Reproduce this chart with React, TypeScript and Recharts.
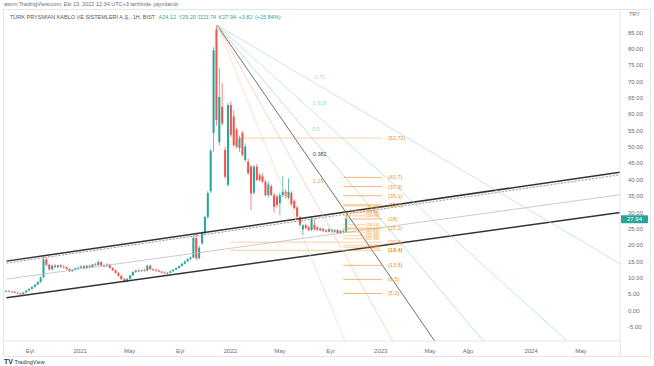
import React from "react";
import { Bar, ComposedChart, ReferenceDot, ReferenceLine, XAxis, YAxis } from "recharts";

const DAY = 86400000;
const d = (s: string) => Date.parse(s + "T00:00:00Z");

const GREEN = "#26a69a";
const RED = "#ef5350";
const ORANGE = "#f5a04a";
const TEXT = "#6a6d78";

// weekly candles [open, high, low, close], oldest first, last one is the week of 10 Oct 2022
const lastWeek = "2022-10-10";
const ohlc: [number, number, number, number][] = [
  [5.9, 6.3, 5.6, 6.0], [6.0, 6.2, 5.7, 5.8], [5.8, 6.0, 5.5, 5.7], [5.7, 5.9, 5.3, 5.4],
  [5.4, 5.6, 5.0, 5.2], [5.2, 5.4, 4.8, 5.0], [5.0, 5.6, 4.9, 5.5], [5.5, 6.2, 5.4, 6.1],
  [6.1, 6.8, 6.0, 6.6], [6.6, 7.4, 6.4, 7.2], [7.2, 8.1, 7.0, 7.9], [7.9, 9.0, 7.7, 8.7],
  [8.7, 10.4, 8.5, 10.1], [10.1, 16.9, 10.0, 15.6], [15.6, 16.2, 13.6, 14.0], [14.0, 14.4, 12.2, 12.6],
  [12.6, 14.0, 12.3, 13.7], [13.7, 14.2, 13.0, 13.3], [13.3, 14.0, 12.9, 13.8], [13.8, 14.2, 13.1, 13.4],
  [13.4, 13.9, 12.9, 13.2], [13.2, 13.5, 12.5, 12.7], [12.7, 13.0, 11.8, 12.0], [12.0, 12.6, 11.7, 12.4],
  [12.4, 13.1, 12.2, 12.9], [12.9, 13.4, 12.6, 13.1], [13.1, 13.8, 12.9, 13.5], [13.5, 13.9, 12.8, 13.0],
  [13.0, 13.9, 12.8, 13.7], [13.7, 14.0, 13.0, 13.2], [13.2, 14.3, 13.1, 14.1], [14.1, 14.6, 13.6, 13.9],
  [13.9, 15.3, 13.7, 14.8], [14.8, 15.0, 13.5, 13.7], [13.7, 14.2, 13.2, 13.6], [13.6, 14.5, 13.3, 14.0],
  [14.0, 14.2, 12.8, 13.0], [13.0, 13.3, 12.0, 12.3], [12.3, 12.6, 11.2, 11.5], [11.5, 11.8, 10.3, 10.6],
  [10.6, 10.9, 9.3, 9.6], [9.6, 9.9, 8.5, 8.8], [8.8, 9.9, 8.6, 9.7], [9.7, 10.9, 9.5, 10.7],
  [10.7, 12.0, 10.5, 11.8], [11.8, 12.5, 11.5, 12.2], [12.2, 12.6, 11.8, 12.1], [12.1, 12.5, 11.7, 12.3],
  [12.3, 12.8, 11.9, 12.2], [12.2, 14.0, 12.0, 13.7], [13.7, 14.0, 12.4, 12.6], [12.6, 12.9, 12.1, 12.4],
  [12.4, 12.8, 11.9, 12.2], [12.2, 12.5, 11.7, 11.9], [11.9, 12.1, 11.3, 11.6], [11.6, 11.9, 11.1, 11.4],
  [11.4, 11.8, 11.0, 11.5], [11.5, 12.2, 11.3, 12.0], [12.0, 12.7, 11.8, 12.5], [12.5, 13.2, 12.3, 13.0],
  [13.0, 13.8, 12.8, 13.6], [13.6, 14.5, 13.4, 14.3], [14.3, 15.3, 14.1, 15.0], [15.0, 16.0, 14.8, 15.7],
  [15.7, 16.5, 15.4, 16.2], [16.2, 23.0, 16.0, 22.2], [22.2, 23.8, 15.4, 16.0], [16.0, 19.8, 15.6, 19.2],
  [20.5, 24.2, 20.2, 23.7], [23.7, 29.0, 23.3, 28.6], [28.6, 36.5, 28.0, 35.9], [36.5, 49.5, 36.0, 48.8],
  [54.3, 80.5, 48.5, 79.6], [86.0, 87.3, 56.5, 58.3], [51.5, 74.2, 50.5, 65.3], [62.3, 69.5, 56.5, 57.2],
  [49.1, 50.0, 40.3, 40.9], [38.4, 63.5, 38.0, 62.8], [62.8, 64.0, 53.0, 53.7], [59.3, 61.3, 50.0, 50.6],
  [55.2, 56.0, 49.5, 50.1], [49.7, 53.5, 48.5, 52.8], [54.3, 55.0, 47.0, 47.6], [46.0, 51.0, 45.5, 50.1],
  [45.5, 46.5, 41.5, 42.0], [44.0, 44.5, 30.7, 35.8], [36.0, 44.5, 35.5, 44.0], [44.0, 44.8, 39.5, 39.9],
  [41.4, 42.0, 39.4, 39.9], [41.0, 42.0, 39.0, 39.4], [39.4, 40.0, 34.8, 35.3], [35.3, 39.5, 34.5, 38.5],
  [38.0, 38.6, 35.0, 35.3], [35.3, 36.0, 30.0, 31.7], [34.8, 35.5, 31.5, 32.3], [32.8, 36.0, 29.2, 35.3],
  [35.3, 41.0, 34.5, 36.3], [36.3, 37.0, 34.3, 35.0], [34.5, 40.4, 34.0, 36.3], [36.0, 36.5, 32.0, 32.5],
  [33.5, 34.0, 30.8, 31.3], [31.5, 32.0, 28.2, 28.7], [28.5, 29.0, 25.8, 26.2], [24.8, 26.4, 23.1, 26.0],
  [26.1, 26.6, 24.8, 25.2], [25.4, 25.9, 24.2, 24.6], [24.6, 28.7, 24.3, 28.0], [26.2, 28.0, 24.5, 24.8],
  [25.4, 25.8, 24.3, 24.7], [25.1, 25.4, 24.2, 24.6], [24.9, 25.2, 24.0, 24.4], [24.5, 24.9, 23.8, 24.1],
  [24.1, 25.2, 23.9, 24.8], [24.7, 25.0, 23.8, 24.1], [24.1, 24.9, 23.7, 24.6], [24.6, 24.9, 23.3, 23.7],
  [23.7, 24.6, 23.3, 24.3], [24.3, 24.8, 23.6, 24.12], [24.12, 29.2, 23.74, 27.94],
];

const timeDomain = ["2020-06-30", "2024-08-04"];
const priceDomain = [-9.33, 91.9];
const monthTicks = [
  "2020-09-01", "2021-01-01", "2021-05-01", "2021-09-01", "2022-01-01", "2022-05-01",
  "2022-09-01", "2023-01-01", "2023-05-01", "2023-08-01", "2024-01-01", "2024-05-01",
];
const monthLabels = ["Eyl", "2021", "May", "Eyl", "2022", "May", "Eyl", "2023", "May", "Ağu", "2024", "May"];
const priceTicks = [-5, 0, 5, 10, 15, 20, 25, 30, 35, 40, 45, 50, 55, 60, 65, 70, 75, 80, 85];

// rising channel, value at channel start and at the right edge
const channelSpan = ["2020-07-06", "2024-08-04"];
const upperLine = [15.1, 42.3];
const dashedLine = [14.5, 41.5];
const middleLine = [9.6, 35.4];
const lowerLine = [3.9, 30.0];

// fan from the Nov 2021 top
const fanOrigin = { date: "2021-11-29", value: 87.3 };
const fanLevels = ["0.75", "0.618", "0.5", "0.382", "0.25", "0"];
const fanEnds: [string, number][] = [
  ["2024-08-04", 14.3], ["2024-03-29", -9.33], ["2023-09-07", -9.33],
  ["2023-05-12", -9.33], ["2023-01-30", -9.33], ["2022-10-06", -9.33],
];
const fanLabelAt: [string, number][] = [
  ["2022-07-24", 71.3], ["2022-07-20", 63.3], ["2022-07-18", 55.4], ["2022-07-20", 47.7], ["2022-07-20", 39.4],
];
const fanColors = ["#b7d3ea", "#acdad3", "#a3d6b9", "#4a4a4a", "#f7c29a", "#fad7bb"];

// retracement levels with labels on the right
const fibRight = [52.72, 40.7, 37.9, 35.1, 32.3, 28, 25.2, 20.9, 18.4, 13.8, 9.5, 5.2];
const fibRightStart = [
  "2022-01-05", "2022-10-02", "2022-10-02", "2022-10-02", "2022-10-02", "2022-10-02",
  "2022-10-02", "2021-12-31", "2021-12-31", "2022-10-02", "2022-10-02", "2022-10-02",
];
const fibEnd = "2023-01-04";
const fibCluster = [31.92, 30.5, 29.88, 28.96, 26.24, 24.86, 23.96, 22.86, 21.96, 19.96, 19.36];
const fibClusterEnd = "2022-11-24";

const lastClose = 27.94;

const data = ohlc.map(([o, h, l, c], i) => ({
  t: d(lastWeek) - (ohlc.length - 1 - i) * 7 * DAY,
  o, h, l, c,
}));

function Candle(props: any) {
  const { x, y, width, height, payload } = props;
  const { o, h, l, c } = payload;
  const span = h - l || 1;
  const py = (v: number) => y + ((h - v) / span) * height;
  const color = c >= o ? GREEN : RED;
  const top = py(Math.max(o, c));
  const bot = py(Math.min(o, c));
  const cx = x + width / 2;
  return (
    <g>
      <line x1={cx} x2={cx} y1={y} y2={y + height} stroke={color} strokeWidth={0.7} />
      <rect x={x} y={top} width={width} height={Math.max(bot - top, 0.8)} fill={color} />
    </g>
  );
}

const seg = (x1: string, y1: number, x2: string, y2: number) => [
  { x: d(x1), y: y1 },
  { x: d(x2), y: y2 },
];

const small = { position: "absolute" as const, fontSize: 5.5, lineHeight: "7px", whiteSpace: "nowrap" as const, color: TEXT };

export default function App() {
  const tickLabel = (v: number) => monthLabels[monthTicks.findIndex((m) => d(m) === v)] ?? "";
  return (
    <div style={{ position: "absolute", left: 0, top: 0, width: 654, height: 366, background: "#fff", fontFamily: "'Liberation Sans', Arial, sans-serif" }}>
      <div style={{ position: "absolute", left: 3, top: 9, width: 648, height: 348, border: "1px solid #e3e5ea", boxSizing: "border-box" }} />
      <div style={{ position: "absolute", left: 620, top: 341, width: 1, height: 16, background: "#e3e5ea" }} />
      <ComposedChart width={654} height={366} data={data} margin={{ top: 10, right: 0, bottom: 0, left: 4 }}>
        <XAxis
          dataKey="t"
          type="number"
          domain={timeDomain.map(d)}
          allowDataOverflow
          ticks={monthTicks.map(d)}
          tickFormatter={tickLabel}
          height={25}
          tickLine={false}
          axisLine={{ stroke: "#e3e5ea" }}
          tick={{ fontSize: 6, fill: TEXT }}
        />
        <YAxis
          orientation="right"
          type="number"
          domain={priceDomain}
          allowDataOverflow
          ticks={priceTicks}
          tickFormatter={(v: number) => v.toFixed(2)}
          width={34}
          tickLine={false}
          axisLine={{ stroke: "#e3e5ea" }}
          tick={{ fontSize: 6, fill: TEXT, textAnchor: "start" }}
        />

        <ReferenceLine segment={seg(channelSpan[0], middleLine[0], channelSpan[1], middleLine[1])} stroke="#bdbdbd" strokeWidth={0.8} ifOverflow="visible" />
        <ReferenceLine segment={seg(channelSpan[0], dashedLine[0], channelSpan[1], dashedLine[1])} stroke="#8a8a8a" strokeWidth={0.9} strokeDasharray="2 1.5" ifOverflow="visible" />
        <ReferenceLine segment={seg(channelSpan[0], upperLine[0], channelSpan[1], upperLine[1])} stroke="#333" strokeWidth={1.5} ifOverflow="visible" />
        <ReferenceLine segment={seg(channelSpan[0], lowerLine[0], channelSpan[1], lowerLine[1])} stroke="#333" strokeWidth={1.5} ifOverflow="visible" />

        {fanEnds.map(([date, value], i) => (
          <ReferenceLine
            key={"fan" + i}
            segment={seg(fanOrigin.date, fanOrigin.value, date, value)}
            stroke={fanColors[i]}
            strokeWidth={i === 3 ? 0.8 : 0.7}
            ifOverflow="visible"
          />
        ))}
        {fanLabelAt.map(([date, value], i) => (
          <ReferenceDot
            key={"fl" + i}
            x={d(date)}
            y={value}
            ifOverflow="visible"
            shape={(p: any) => (
              <text x={p.cx} y={p.cy} fontSize={5.5} fill={i === 3 ? "#4a4a4a" : i === 4 ? "#f0a060" : fanColors[i]} dominantBaseline="middle">
                {fanLevels[i]}
              </text>
            )}
          />
        ))}

        {fibRight.map((v, i) => (
          <ReferenceLine
            key={"fr" + i}
            segment={seg(fibRightStart[i], v, fibEnd, v)}
            stroke={ORANGE}
            strokeOpacity={i === 0 || i === 7 || i === 8 ? 0.55 : 0.85}
            strokeWidth={0.9}
            ifOverflow="visible"
            label={{ value: `(${v})`, position: "right", offset: 6, fill: "#f0932b", fontSize: 5.5, fontWeight: i === 8 ? 700 : 400 }}
          />
        ))}
        {fibCluster.map((v, i) => (
          <ReferenceLine
            key={"fc" + i}
            segment={seg("2022-10-02", v, fibClusterEnd, v)}
            stroke={ORANGE}
            strokeOpacity={0.7}
            strokeWidth={0.7}
            ifOverflow="visible"
            label={{ value: `(${v})`, position: "right", offset: 1, fill: "#f0932b", fontSize: 4.2 }}
          />
        ))}

        <Bar dataKey={(e: any) => [e.l, e.h]} barSize={2} shape={<Candle />} isAnimationActive={false} />

        <ReferenceDot
          x={d(timeDomain[1])}
          y={lastClose}
          ifOverflow="visible"
          shape={(p: any) => (
            <g>
              <rect x={p.cx + 1} y={p.cy - 4} width={27} height={8} fill={GREEN} rx={1} />
              <text x={p.cx + 14.5} y={p.cy + 0.3} fontSize={6} fill="#fff" textAnchor="middle" dominantBaseline="middle">
                {lastClose.toFixed(2)}
              </text>
            </g>
          )}
        />
      </ComposedChart>

      <div style={{ ...small, left: 4, top: 1 }}>asmn TradingView.com, Eki 13, 2022 12:34 UTC+3 tarihinde yayınlandı</div>
      <div style={{ ...small, left: 10, top: 14, color: "#555" }}>
        TÜRK PRYSMIAN KABLO VE SİSTEMLERİ A.Ş., 1H, BIST{" "}
        <span style={{ color: GREEN, marginLeft: 2, wordSpacing: 1 }}>A24.12 Y29.20 D23.74 K27.94 +3.82 (+15.84%)</span>
      </div>
      <div style={{ ...small, left: 629, top: 11 }}>TRY</div>
      <div style={{ ...small, left: 4, top: 358, color: "#333" }}>
        <b style={{ fontSize: 7 }}>TV</b> TradingView
      </div>
    </div>
  );
}
